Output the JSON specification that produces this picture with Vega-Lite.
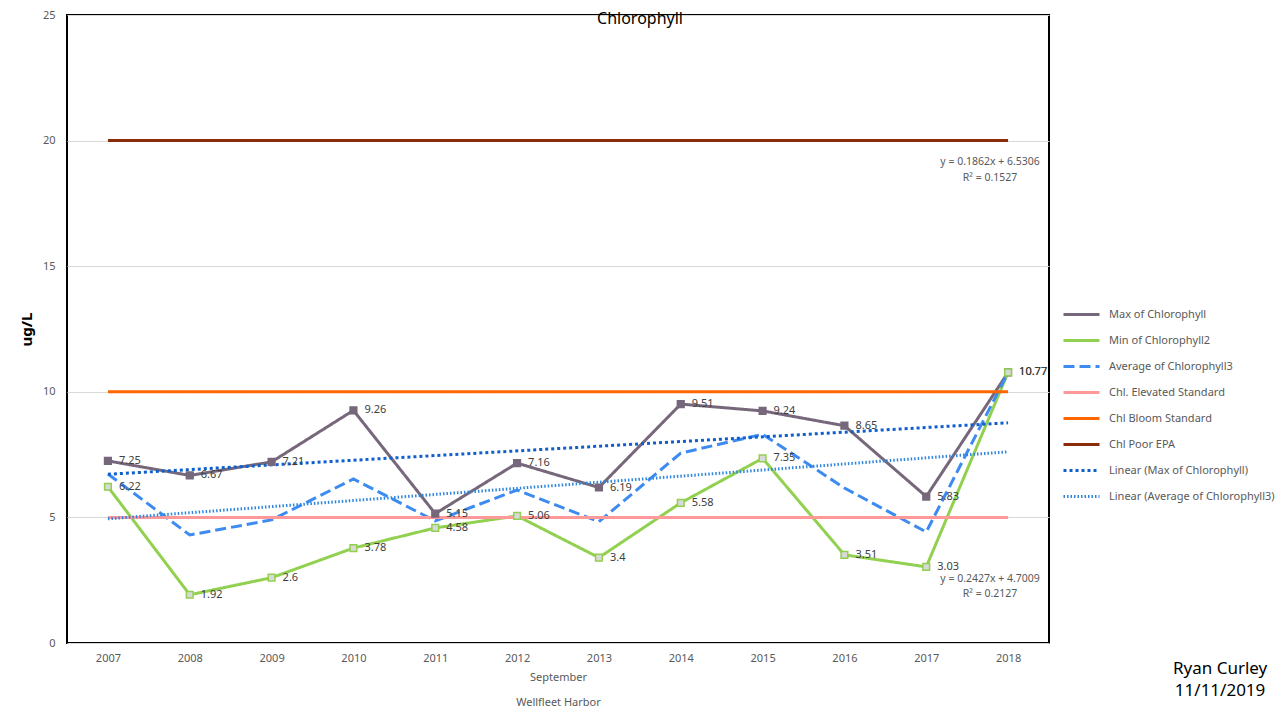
{
  "$schema": "https://vega.github.io/schema/vega-lite/v6.json",
  "width": 982,
  "height": 628,
  "autosize": {"type": "none"},
  "padding": {"left": 67, "top": 15, "right": 231, "bottom": 77},
  "background": "white",
  "config": {
    "font": "Noto Sans",
    "view": {"stroke": "black", "strokeWidth": 2},
    "legend": {
      "orient": "none",
      "legendX": 995,
      "legendY": 280,
      "symbolType": "stroke",
      "symbolSize": 1296,
      "symbolStrokeWidth": 3,
      "labelFontSize": 11,
      "labelColor": "#595959",
      "labelLimit": 300,
      "labelOffset": 8,
      "rowPadding": -13,
      "title": null
    }
  },
  "title": {
    "text": "Chlorophyll",
    "fontSize": 16,
    "fontWeight": "normal",
    "color": "black",
    "anchor": "middle",
    "frame": "group",
    "dx": 82,
    "offset": -31,
    "baseline": "alphabetic"
  },
  "datasets": {
    "lines": [
      {"year": "2007", "series": "Max of Chlorophyll", "value": 7.25},
      {"year": "2008", "series": "Max of Chlorophyll", "value": 6.67},
      {"year": "2009", "series": "Max of Chlorophyll", "value": 7.21},
      {"year": "2010", "series": "Max of Chlorophyll", "value": 9.26},
      {"year": "2011", "series": "Max of Chlorophyll", "value": 5.15},
      {"year": "2012", "series": "Max of Chlorophyll", "value": 7.16},
      {"year": "2013", "series": "Max of Chlorophyll", "value": 6.19},
      {"year": "2014", "series": "Max of Chlorophyll", "value": 9.51},
      {"year": "2015", "series": "Max of Chlorophyll", "value": 9.24},
      {"year": "2016", "series": "Max of Chlorophyll", "value": 8.65},
      {"year": "2017", "series": "Max of Chlorophyll", "value": 5.83},
      {"year": "2018", "series": "Max of Chlorophyll", "value": 10.77},
      {"year": "2007", "series": "Min of Chlorophyll2", "value": 6.22},
      {"year": "2008", "series": "Min of Chlorophyll2", "value": 1.92},
      {"year": "2009", "series": "Min of Chlorophyll2", "value": 2.6},
      {"year": "2010", "series": "Min of Chlorophyll2", "value": 3.78},
      {"year": "2011", "series": "Min of Chlorophyll2", "value": 4.58},
      {"year": "2012", "series": "Min of Chlorophyll2", "value": 5.06},
      {"year": "2013", "series": "Min of Chlorophyll2", "value": 3.4},
      {"year": "2014", "series": "Min of Chlorophyll2", "value": 5.58},
      {"year": "2015", "series": "Min of Chlorophyll2", "value": 7.35},
      {"year": "2016", "series": "Min of Chlorophyll2", "value": 3.51},
      {"year": "2017", "series": "Min of Chlorophyll2", "value": 3.03},
      {"year": "2018", "series": "Min of Chlorophyll2", "value": 10.77},
      {"year": "2007", "series": "Average of Chlorophyll3", "value": 6.73},
      {"year": "2008", "series": "Average of Chlorophyll3", "value": 4.3},
      {"year": "2009", "series": "Average of Chlorophyll3", "value": 4.9},
      {"year": "2010", "series": "Average of Chlorophyll3", "value": 6.53},
      {"year": "2011", "series": "Average of Chlorophyll3", "value": 4.86},
      {"year": "2012", "series": "Average of Chlorophyll3", "value": 6.09},
      {"year": "2013", "series": "Average of Chlorophyll3", "value": 4.83},
      {"year": "2014", "series": "Average of Chlorophyll3", "value": 7.56},
      {"year": "2015", "series": "Average of Chlorophyll3", "value": 8.31},
      {"year": "2016", "series": "Average of Chlorophyll3", "value": 6.17},
      {"year": "2017", "series": "Average of Chlorophyll3", "value": 4.42},
      {"year": "2018", "series": "Average of Chlorophyll3", "value": 10.77},
      {"year": "2007", "series": "Chl. Elevated Standard", "value": 5},
      {"year": "2018", "series": "Chl. Elevated Standard", "value": 5},
      {"year": "2007", "series": "Chl Bloom Standard", "value": 10},
      {"year": "2018", "series": "Chl Bloom Standard", "value": 10},
      {"year": "2007", "series": "Chl Poor EPA", "value": 20},
      {"year": "2018", "series": "Chl Poor EPA", "value": 20},
      {"year": "2007", "series": "Linear (Max of Chlorophyll)", "value": 6.717},
      {"year": "2018", "series": "Linear (Max of Chlorophyll)", "value": 8.765},
      {"year": "2007", "series": "Linear (Average of Chlorophyll3)", "value": 4.944},
      {"year": "2018", "series": "Linear (Average of Chlorophyll3)", "value": 7.613}
    ],
    "eq": [
      {"year": "2018", "value": 19.15, "label": "y = 0.1862x + 6.5306"},
      {"year": "2018", "value": 18.5, "label": "R² = 0.1527"},
      {"year": "2018", "value": 2.56, "label": "y = 0.2427x + 4.7009"},
      {"year": "2018", "value": 1.96, "label": "R² = 0.2127"}
    ]
  },
  "layer": [
    {
      "data": {"name": "lines"},
      "mark": {"type": "line"},
      "encoding": {
        "x": {
          "field": "year",
          "type": "nominal",
          "scale": {"type": "point", "padding": 0.5},
          "axis": {
            "title": ["September", "Wellfleet Harbor"],
            "labelAngle": 0,
            "labelFontSize": 11,
            "labelColor": "#595959",
            "ticks": false,
            "domain": false,
            "labelPadding": 9,
            "titleFontSize": 11,
            "titleFontWeight": "normal",
            "titleColor": "#595959",
            "titleLineHeight": 25,
            "titlePadding": 8,
            "grid": false
          }
        },
        "y": {
          "field": "value",
          "type": "quantitative",
          "scale": {"domain": [0, 25], "nice": false},
          "axis": {
            "values": [0, 5, 10, 15, 20, 25],
            "title": "ug/L",
            "titleFontSize": 15,
            "titleFontWeight": "bold",
            "titleColor": "black",
            "titlePadding": 8,
            "labelFontSize": 11,
            "labelColor": "#595959",
            "labelPadding": 12,
            "ticks": false,
            "domain": false,
            "grid": true,
            "gridColor": "#D9D9D9"
          }
        },
        "color": {
          "field": "series",
          "type": "nominal",
          "scale": {
            "domain": ["Max of Chlorophyll", "Min of Chlorophyll2", "Average of Chlorophyll3", "Chl. Elevated Standard", "Chl Bloom Standard", "Chl Poor EPA", "Linear (Max of Chlorophyll)", "Linear (Average of Chlorophyll3)"],
            "range": ["#76677B", "#92D050", "#3D8BF0", "#FF9999", "#FF6600", "#8A2B0A", "#0F5FCC", "#2E86DE"]
          }
        },
        "strokeDash": {
          "field": "series",
          "type": "nominal",
          "scale": {
            "domain": ["Max of Chlorophyll", "Min of Chlorophyll2", "Average of Chlorophyll3", "Chl. Elevated Standard", "Chl Bloom Standard", "Chl Poor EPA", "Linear (Max of Chlorophyll)", "Linear (Average of Chlorophyll3)"],
            "range": [[1, 0], [1, 0], [11, 5], [1, 0], [1, 0], [1, 0], [3, 3], [1.5, 2]]
          }
        },
        "strokeWidth": {
          "field": "series",
          "type": "nominal",
          "scale": {
            "domain": ["Max of Chlorophyll", "Min of Chlorophyll2", "Average of Chlorophyll3", "Chl. Elevated Standard", "Chl Bloom Standard", "Chl Poor EPA", "Linear (Max of Chlorophyll)", "Linear (Average of Chlorophyll3)"],
            "range": [3, 3, 3, 3, 3, 3, 3, 1.5]
          }
        }
      }
    },
    {
      "data": {"name": "lines"},
      "transform": [{"filter": {"field": "series", "oneOf": ["Max of Chlorophyll", "Min of Chlorophyll2"]}}],
      "mark": {"type": "point", "shape": "square", "size": 45, "filled": true, "strokeWidth": 1.5, "opacity": 1},
      "encoding": {
        "x": {"field": "year", "type": "nominal"},
        "y": {"field": "value", "type": "quantitative"},
        "fill": {
          "field": "series",
          "type": "nominal",
          "legend": null,
          "scale": {"domain": ["Max of Chlorophyll", "Min of Chlorophyll2"], "range": ["#76677B", "#D9D9D9"]}
        },
        "stroke": {
          "field": "series",
          "type": "nominal",
          "legend": null,
          "scale": {"domain": ["Max of Chlorophyll", "Min of Chlorophyll2"], "range": ["#76677B", "#92D050"]}
        }
      }
    },
    {
      "data": {"name": "lines"},
      "transform": [{"filter": {"field": "series", "oneOf": ["Max of Chlorophyll", "Min of Chlorophyll2"]}}],
      "mark": {"type": "text", "align": "left", "baseline": "middle", "dx": 11, "fontSize": 11, "color": "#404040"},
      "encoding": {
        "x": {"field": "year", "type": "nominal"},
        "y": {"field": "value", "type": "quantitative"},
        "text": {"field": "value", "type": "nominal"}
      }
    },
    {
      "data": {"name": "eq"},
      "mark": {"type": "text", "align": "center", "baseline": "middle", "dx": -18, "fontSize": 10.5, "color": "#595959"},
      "encoding": {
        "x": {"field": "year", "type": "nominal"},
        "y": {"field": "value", "type": "quantitative"},
        "text": {"field": "label", "type": "nominal"}
      }
    },
    {
      "data": {"values": [{"note": "Ryan Curley\n11/11/2019"}]},
      "mark": {"type": "text", "align": "center", "baseline": "middle", "dx": 212, "dy": 26, "fontSize": 17, "lineHeight": 22, "lineBreak": "\n", "color": "black"},
      "encoding": {
        "x": {"datum": "2018", "type": "nominal"},
        "y": {"datum": 0, "type": "quantitative"},
        "text": {"field": "note", "type": "nominal"}
      }
    }
  ]
}
